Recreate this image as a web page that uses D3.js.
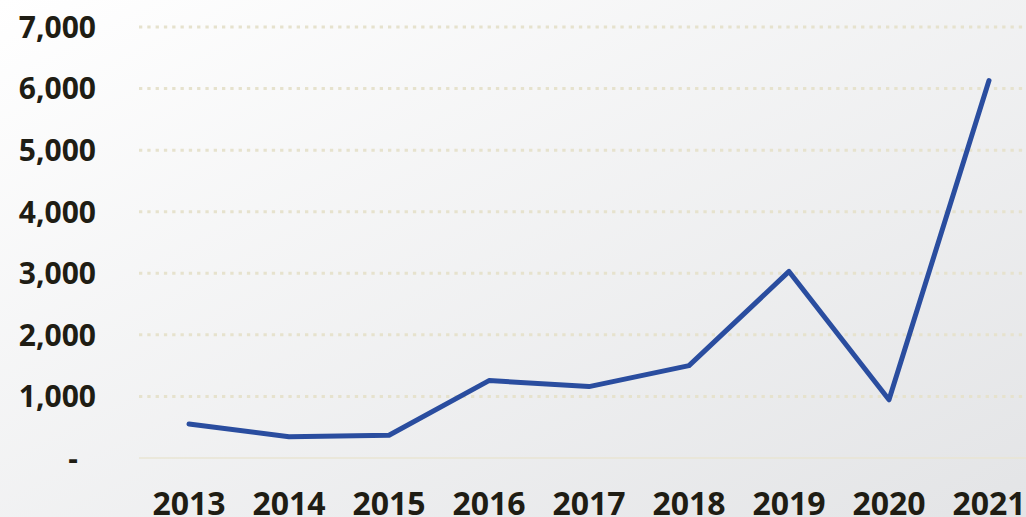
<!DOCTYPE html>
<html>
<head>
<meta charset="utf-8">
<script src="https://cdn.jsdelivr.net/npm/d3@7"></script>
<style>
  html, body { margin: 0; padding: 0; overflow: hidden; }
  .tick-label { font-family: "Open Sans", sans-serif; font-weight: 700; fill: #1f1d14; }
</style>
</head>
<body>
<div id="chart"></div>
<script>
// chart data
var years = ["2013", "2014", "2015", "2016", "2017", "2018", "2019", "2020", "2021"];
var values = [553, 346, 369, 1257, 1160, 1500, 3030, 945, 6130];
var yTicks = [0, 1000, 2000, 3000, 4000, 5000, 6000, 7000];
var yTickLabels = ["-", "1,000", "2,000", "3,000", "4,000", "5,000", "6,000", "7,000"];

var svgWidth = 1026;
var svgHeight = 517;

let margin = { top: 27, right: -13, bottom: 59, left: 139 };
let width = svgWidth - margin.left - margin.right;
let height = svgHeight - margin.top - margin.bottom;

let svg = d3.select("#chart")
  .append("svg")
  .attr("width", svgWidth)
  .attr("height", svgHeight);

// background gradient
let defs = svg.append("defs");
let grad = defs.append("linearGradient")
  .attr("id", "bg")
  .attr("x1", "0%").attr("y1", "0%")
  .attr("x2", "100%").attr("y2", "100%");
grad.append("stop").attr("offset", "0%").attr("stop-color", "#ffffff");
grad.append("stop").attr("offset", "100%").attr("stop-color", "#e3e4e6");

svg.append("rect")
  .attr("width", svgWidth)
  .attr("height", svgHeight)
  .attr("fill", "url(#bg)");

let chartGroup = svg.append("g")
  .attr("transform", `translate(${margin.left}, ${margin.top})`);

let x = d3.scaleBand()
  .domain(years)
  .range([0, width]);

let y = d3.scaleLinear()
  .domain([0, 7000])
  .range([height, 0]);

// gridlines
chartGroup.selectAll(".grid")
  .data(yTicks.filter(d => d > 0))
  .enter()
  .append("line")
  .attr("class", "grid")
  .attr("x1", 0)
  .attr("x2", width)
  .attr("y1", d => y(d))
  .attr("y2", d => y(d))
  .attr("stroke", "#e6e2cd")
  .attr("stroke-width", 3)
  .attr("stroke-dasharray", "3.3,5");

// baseline
chartGroup.append("line")
  .attr("x1", 0)
  .attr("x2", width)
  .attr("y1", y(0))
  .attr("y2", y(0))
  .attr("stroke", "#e8e4d3")
  .attr("stroke-width", 1.5);

// y labels
chartGroup.selectAll(".ylab")
  .data(yTicks)
  .enter()
  .append("text")
  .attr("class", "tick-label")
  .attr("x", (d, i) => i === 0 ? -61 : -43)
  .attr("y", d => y(d))
  .attr("dy", "0.36em")
  .attr("text-anchor", "end")
  .style("font-size", "30px")
  .text((d, i) => yTickLabels[i]);

// x labels
chartGroup.selectAll(".xlab")
  .data(years)
  .enter()
  .append("text")
  .attr("class", "tick-label")
  .attr("x", d => x(d) + x.bandwidth() / 2)
  .attr("y", height + 57)
  .attr("text-anchor", "middle")
  .style("font-size", "32px")
  .text(d => d);

// line
let line = d3.line()
  .x((d, i) => x(years[i]) + x.bandwidth() / 2)
  .y(d => y(d));

chartGroup.append("path")
  .datum(values)
  .attr("d", line)
  .attr("fill", "none")
  .attr("stroke", "#2a4d9f")
  .attr("stroke-width", 5)
  .attr("stroke-linejoin", "round")
  .attr("stroke-linecap", "round");
</script>
</body>
</html>
